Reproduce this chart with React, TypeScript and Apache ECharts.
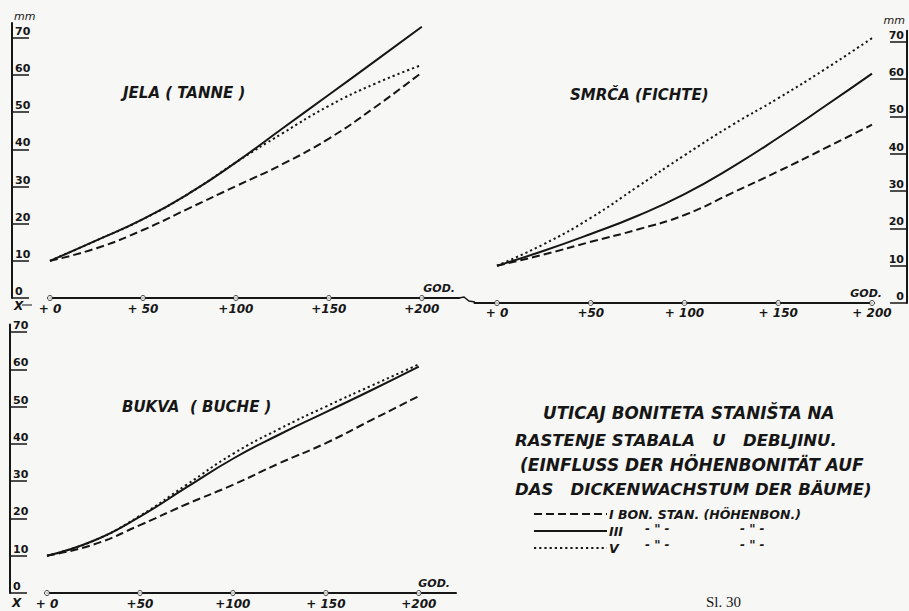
import React, { useEffect, useRef } from 'react';
import * as echarts from 'echarts';

// ---- data ----
const years = [0, 25, 50, 75, 100, 125, 150, 175, 200];

const jelaI = [10, 13.4, 18.3, 24.2, 30.1, 36, 42.9, 51.4, 60.7];
const jelaIII = [10, 15.5, 21.2, 28.2, 36.5, 45.6, 54.7, 63.8, 73];
const jelaV = [10, 15.5, 21.2, 28.2, 36.5, 44.3, 51.7, 57.7, 62.7];

const smrcaI = [10, 13, 16.4, 19.7, 23.6, 29.4, 35.3, 41.5, 47.8];
const smrcaIII = [10, 14, 18.5, 23.4, 29.2, 36.3, 44.3, 52.8, 61.5];
const smrcaV = [10, 15.8, 22.8, 31.2, 39.6, 47.6, 54.9, 62.7, 71];

const bukvaI = [10, 13, 18.2, 23.8, 29, 34.8, 40.2, 46.5, 52.8];
const bukvaIII = [10, 14, 20.5, 28.3, 36, 42.5, 48.5, 54.5, 60.7];
const bukvaV = [10, 14, 20.7, 29, 37.3, 44, 50, 55.7, 61.3];

const xTicks = [0, 50, 100, 150, 200];
const xLabelsJela = ['+ 0', '+ 50', '+100', '+150', '+200'];
const xLabelsSmrca = ['+ 0', '+50', '+ 100', '+ 150', '+ 200'];
const xLabelsBukva = ['+ 0', '+50', '+100', '+ 150', '+200'];
const yTicks = [0, 10, 20, 30, 40, 50, 60, 70];

const nameI = 'I BON. STAN. (HÖHENBON.)';
const nameIII = 'III';
const nameV = 'V';

const panelTitles = ['JELA ( TANNE )', 'SMRČA (FICHTE)', 'BUKVA  ( BUCHE )'];
const captionLines = [
  'UTICAJ BONITETA STANIŠTA NA',
  'RASTENJE STABALA   U   DEBLJINU.',
  '(EINFLUSS DER HÖHENBONITÄT AUF',
  'DAS   DICKENWACHSTUM DER BÄUME)',
];
const figureLabel = 'Sl. 30';

const FONT = 'DejaVu Sans';
const INK = '#161616';
const BG = '#f7f7f5';

function pairs(vals: number[]) {
  return years.map((y, i) => [y, vals[i]]);
}

export default function App() {
  const ref = useRef<HTMLDivElement>(null);
  useEffect(() => {
    const chart = echarts.init(ref.current!, null, { renderer: 'svg' });
    const ls = { color: INK, fontFamily: FONT, fontWeight: 'bold', fontStyle: 'italic' } as any;

    const grids = [
      { left: 50, top: 23, width: 409, height: 275 },
      { left: 474.5, top: 30.7, width: 397.5, height: 272.3 },
      { left: 47, top: 324.5, width: 409, height: 268.5 },
    ];

    const xAx = (gi: number, min: number, max: number, labels: string[], margin: number, nameGap: number) => ({
      type: 'value', gridIndex: gi, min, max,
      axisLine: { show: true, onZero: false, lineStyle: { color: INK, width: 2 } },
      axisTick: { show: false },
      splitLine: { show: false },
      axisLabel: {
        customValues: xTicks,
        formatter: (v: number) => { const k = xTicks.indexOf(v); return k >= 0 ? labels[k] : ''; },
        margin, fontSize: 12, ...ls,
      },
      name: 'GOD.', nameLocation: 'end', nameGap,
      nameTextStyle: { ...ls, fontSize: 11, align: 'right', verticalAlign: 'bottom', padding: [0, 0, 4, 0] },
    });

    const yAx = (gi: number, max: number, position: string, offset: number, name: string, nameGap: number, nameAlign: string) => ({
      type: 'value', gridIndex: gi, min: 0, max, position, offset,
      axisLine: { show: true, onZero: false, lineStyle: { color: INK, width: 2 } },
      axisTick: { show: true, inside: true, length: 17, customValues: yTicks, lineStyle: { color: INK, width: 1.5 } },
      axisLabel: { inside: true, customValues: yTicks, margin: 3, verticalAlign: 'bottom', fontSize: 11, ...ls, fontStyle: 'normal', padding: [0, 0, 1, 0] },
      splitLine: { show: false },
      name, nameLocation: 'end', nameGap,
      nameTextStyle: { ...ls, fontSize: 11, fontWeight: 'normal', align: nameAlign, verticalAlign: 'bottom', padding: [0, 2, 0, 2] },
    });

    const styleI = { type: [8, 4], width: 2 };
    const styleIII = { type: 'solid', width: 2 };
    const styleV = { type: [2.2, 3], width: 2 };

    const line = (name: string, gi: number, vals: number[], st: any) => ({
      type: 'line', name, xAxisIndex: gi, yAxisIndex: gi, data: pairs(vals),
      smooth: 0.5, symbol: 'none', showSymbol: false,
      lineStyle: { ...st, color: INK }, itemStyle: { color: INK }, z: 3,
    });
    const ticks = (gi: number) => ({
      type: 'scatter', xAxisIndex: gi, yAxisIndex: gi, data: xTicks.map((v) => [v, 0]),
      symbol: 'circle', symbolSize: 5, itemStyle: { color: BG, borderColor: INK, borderWidth: 1 },
      z: 5, silent: true, clip: false,
    });

    const txt = (text: string, x: number, y: number, size: number, extra: any = {}) => ({
      type: 'text', x, y, silent: true,
      style: { text, fill: INK, fontFamily: FONT, fontWeight: 'bold', fontStyle: 'italic', fontSize: size, verticalAlign: 'middle', ...extra },
    });

    chart.setOption({
      animation: false,
      backgroundColor: BG,
      grid: grids,
      xAxis: [
        xAx(0, 0, 220, xLabelsJela, 5, -4),
        xAx(1, -12, 200, xLabelsSmrca, 4, 10),
        xAx(2, 0, 220, xLabelsBukva, 5, -6),
      ],
      yAxis: [
        yAx(0, 74, 'left', 38, 'mm', 1, 'left'),
        yAx(1, 73, 'right', 35, 'mm', 5, 'right'),
        yAx(2, 72, 'left', 37, '', 1, 'left'),
      ],
      legend: {
        orient: 'vertical', left: 533, top: 507.5, padding: 0, itemGap: 4,
        itemWidth: 73, itemHeight: 11, selectedMode: false,
        itemStyle: { opacity: 0 },
        data: [nameI, nameIII, nameV],
        textStyle: { ...ls, fontSize: 12.5, padding: [0, 0, 0, -3] },
      },
      series: [
        line(nameI, 0, jelaI, styleI), line(nameIII, 0, jelaIII, styleIII), line(nameV, 0, jelaV, styleV),
        line(nameI, 1, smrcaI, styleI), line(nameIII, 1, smrcaIII, styleIII), line(nameV, 1, smrcaV, styleV),
        line(nameI, 2, bukvaI, styleI), line(nameIII, 2, bukvaIII, styleIII), line(nameV, 2, bukvaV, styleV),
        ticks(0), ticks(1), ticks(2),
      ],
      graphic: [
        txt(panelTitles[0], 123, 93, 15),
        txt(panelTitles[1], 570, 95, 15),
        txt(panelTitles[2], 122, 407, 15),
        txt(captionLines[0], 543, 413, 16.8),
        txt(captionLines[1], 515, 440, 16.5),
        txt(captionLines[2], 520, 465, 17),
        txt(captionLines[3], 515, 489, 16.5),
        txt('- " -', 645, 529, 12),
        txt('- " -', 740, 529, 12),
        txt('- " -', 645, 545, 12),
        txt('- " -', 740, 545, 12),
        txt('X', 14, 306, 12),
        txt('X', 12, 603, 12),
        { type: 'line', silent: true, shape: { x1: 22, y1: 305, x2: 32, y2: 305 }, style: { stroke: INK, lineWidth: 1 } },
        { type: 'polyline', silent: true, shape: { points: [[459, 298], [464, 297], [469, 301], [475, 302]] }, style: { stroke: INK, lineWidth: 1.5, fill: 'none' } },
        {
          type: 'text', x: 706, y: 594, silent: true,
          style: { text: figureLabel, fill: INK, fontFamily: 'Liberation Serif', fontSize: 15, verticalAlign: 'top' },
        },
      ],
    });
    return () => chart.dispose();
  }, []);
  return <div ref={ref} style={{ position: 'fixed', left: 0, top: 0, width: 909, height: 611 }} />;
}
